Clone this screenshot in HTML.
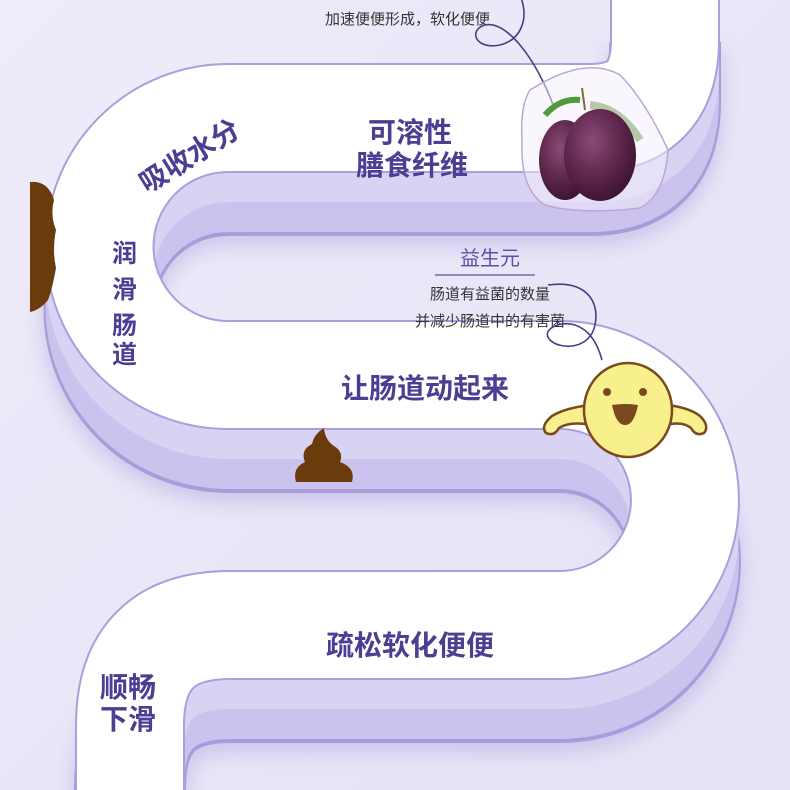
<!DOCTYPE html>
<html><head><meta charset="utf-8"><style>
html,body{margin:0;padding:0;background:#ece9f8;width:790px;height:790px;overflow:hidden;}
svg{display:block}
text{font-family:"Liberation Sans","Noto Sans CJK SC",sans-serif;}
.b{font-weight:bold;fill:#4a3f92;font-size:28px}
.s{fill:#333;font-size:15px}
</style></head><body>
<svg width="790" height="790" viewBox="0 0 790 790" xmlns="http://www.w3.org/2000/svg">
<defs>
<linearGradient id="bg" x1="0" y1="0" x2="1" y2="1"><stop offset="0" stop-color="#eeebfa"/><stop offset="1" stop-color="#e6e2f6"/></linearGradient>
<filter id="sh" x="-20%" y="-20%" width="140%" height="140%"><feGaussianBlur stdDeviation="10"/></filter>
<radialGradient id="plum" cx="0.4" cy="0.35" r="0.7"><stop offset="0" stop-color="#8a4a78"/><stop offset="0.6" stop-color="#5a2448"/><stop offset="1" stop-color="#3a1230"/></radialGradient>
</defs>
<rect width="790" height="790" fill="url(#bg)"/>
<g fill="none" stroke-linecap="butt" stroke-linejoin="round">
<path d="M665 -20 V40 Q665 118 590 118 H228 A128.5 128.5 0 0 0 228 375 H560 A125 125 0 0 1 560 625 H230 Q130 625 130 725 V820" stroke="#b9b0e2" stroke-width="116" transform="translate(0,70)" filter="url(#sh)" opacity="0.6"/>
<path d="M665 -20 V40 Q665 118 590 118 H228 A128.5 128.5 0 0 0 228 375 H560 A125 125 0 0 1 560 625 H230 Q130 625 130 725 V820" stroke="#a79ddb" stroke-width="112" transform="translate(0,62)"/>
<path d="M665 -20 V40 Q665 118 590 118 H228 A128.5 128.5 0 0 0 228 375 H560 A125 125 0 0 1 560 625 H230 Q130 625 130 725 V820" stroke="#cbc3ee" stroke-width="108" transform="translate(0,60)"/>
<path d="M665 -20 V40 Q665 118 590 118 H228 A128.5 128.5 0 0 0 228 375 H560 A125 125 0 0 1 560 625 H230 Q130 625 130 725 V820" stroke="#d9d3f3" stroke-width="108" transform="translate(0,30)"/>
<path d="M665 -20 V40 Q665 118 590 118 H228 A128.5 128.5 0 0 0 228 375 H560 A125 125 0 0 1 560 625 H230 Q130 625 130 725 V820" stroke="#a99fdc" stroke-width="110"/>
<path d="M665 -20 V40 Q665 118 590 118 H228 A128.5 128.5 0 0 0 228 375 H560 A125 125 0 0 1 560 625 H230 Q130 625 130 725 V820" stroke="#fff" stroke-width="106"/>
</g>
<path d="M30 182 Q48 180 54 200 Q50 215 56 230 Q52 250 56 268 Q52 290 48 300 Q40 310 30 312 Z" fill="#6a3c0c"/>
<path d="M296 482 Q292 468 305 462 Q300 450 312 444 Q314 434 324 428 Q325 440 334 446 Q344 452 340 462 Q356 468 352 482 Z" fill="#6a3c0c"/>
<text class="s" x="325" y="24">加速便便形成，软化便便</text>
<path d="M520 -5 C530 20 520 40 500 45 C475 50 468 30 485 25 C505 20 535 55 555 110" fill="none" stroke="#4a3f82" stroke-width="1.6"/>
<text class="b" x="410" y="142" text-anchor="middle">可溶性</text>
<text class="b" x="412" y="175" text-anchor="middle">膳食纤维</text>
<text class="b" x="192" y="165" text-anchor="middle" font-size="24" transform="rotate(-32 192 160)">吸收水分</text>
<g class="b" style="font-size:25px">
<text x="112" y="262">润</text><text x="112" y="298">滑</text><text x="112" y="334">肠</text><text x="112" y="363">道</text>
</g>
<text x="490" y="265" text-anchor="middle" font-size="20" fill="#5a4fa6">益生元</text>
<line x1="435" y1="275" x2="535" y2="275" stroke="#5a4fa0" stroke-width="1.2"/>
<text class="s" x="490" y="299" text-anchor="middle">肠道有益菌的数量</text>
<text class="s" x="490" y="326" text-anchor="middle">并减少肠道中的有害菌</text>
<path d="M548 285 C585 280 600 300 595 325 C590 350 560 350 550 340 C540 330 560 320 575 325 C590 330 598 345 602 360" fill="none" stroke="#4a3f82" stroke-width="1.6"/>
<text class="b" x="425" y="398" text-anchor="middle">让肠道动起来</text>
<text class="b" x="410" y="655" text-anchor="middle">疏松软化便便</text>
<text class="b" x="100" y="697" font-size="26">顺畅</text>
<text class="b" x="100" y="729" font-size="26">下滑</text>
<path d="M530 90 Q585 55 620 75 Q645 100 668 150 Q665 195 640 208 Q580 215 545 205 Q520 190 522 140 Q520 105 530 90 Z" fill="#f4f0fb" fill-opacity="0.5" stroke="#b9a6d8" stroke-width="1.5"/>
<path d="M545 115 Q560 98 580 100" stroke="#4f9a3a" stroke-width="6" fill="none"/>
<path d="M590 105 Q620 108 640 140" stroke="#8aa870" stroke-width="8" fill="none" opacity="0.6"/>
<ellipse cx="565" cy="160" rx="26" ry="40" fill="url(#plum)"/>
<ellipse cx="600" cy="155" rx="36" ry="46" fill="url(#plum)"/>
<line x1="582" y1="88" x2="585" y2="110" stroke="#7a6a3a" stroke-width="2"/>
<g stroke="#7a4a1e" stroke-width="2.5" fill="#f7f08d">
<path d="M590 405 Q565 408 552 416 Q540 426 546 433 Q554 437 559 428 Q570 421 592 425 Z"/>
<path d="M668 405 Q690 408 700 416 Q710 426 704 433 Q696 437 691 428 Q682 421 666 425 Z"/>
<ellipse cx="628" cy="410" rx="44" ry="47"/>
</g>
<circle cx="607" cy="392" r="4" fill="#7a4a1e"/><circle cx="643" cy="392" r="4" fill="#7a4a1e"/>
<path d="M612 405 Q625 403 638 405 Q634 425 625 425 Q616 425 612 405 Z" fill="#7a4a1e"/>
</svg>
</body></html>
